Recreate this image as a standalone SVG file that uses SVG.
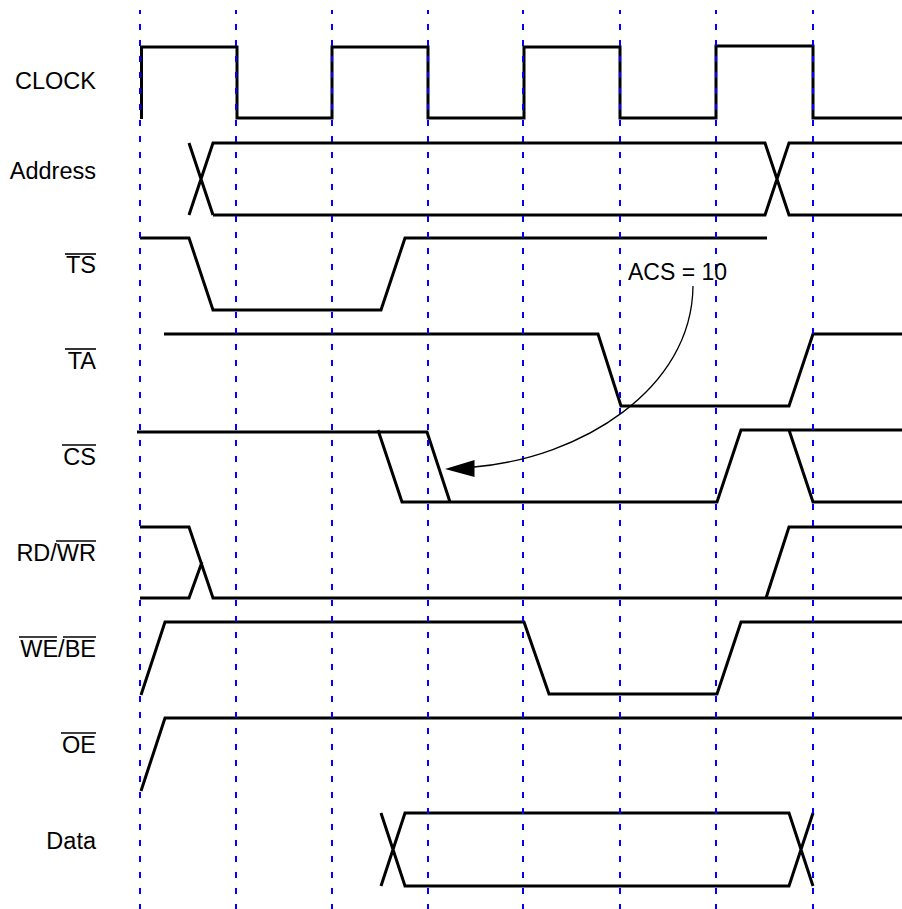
<svg xmlns="http://www.w3.org/2000/svg" width="902" height="909" viewBox="0 0 902 909">
<style>
.lbl{font-family:"Liberation Sans",Arial,Helvetica,sans-serif;font-size:23.5px;fill:#000;text-anchor:end}
.ann{font-family:"Liberation Sans",Arial,Helvetica,sans-serif;font-size:23px;fill:#000}
.wave{fill:none;stroke:#000;stroke-width:3;stroke-linejoin:miter;stroke-linecap:butt}
.ovl{stroke:#000;stroke-width:1.6}
.grid{stroke:#0000ff;stroke-width:2;stroke-dasharray:6 10;stroke-dashoffset:2}
</style>
<rect width="902" height="909" fill="#fff"/>
<g id="CLOCK">
<text class="lbl" x="96" y="89">CLOCK</text>
<path class="wave" d="M141.5,119 V47 H237 V118 H332 V47 H428 V118 H524 V47 H620 V118 H716 V46 H813 V118 H902"/>
</g>
<g id="Address">
<text class="lbl" x="96" y="179">Address</text>
<path class="wave" d="M189,143 L213,215 M189,215 L213,143 H765 L789,215 H902 M213,215 H765 L789,143 H902"/>
</g>
<g id="TS">
<text class="lbl" x="96" y="273">TS</text>
<line class="ovl" x1="65" y1="254" x2="96" y2="254"/>
<path class="wave" d="M140,238 H189 L213,310 H381 L405,238 H767"/>
</g>
<g id="TA">
<text class="lbl" x="96" y="369">TA</text>
<line class="ovl" x1="65" y1="349" x2="96" y2="349"/>
<path class="wave" d="M164,334 H598 L621,406 H789 L813,334 H902"/>
</g>
<g id="CS">
<text class="lbl" x="96" y="465">CS</text>
<line class="ovl" x1="62" y1="445" x2="96" y2="445"/>
<path class="wave" d="M137,432 H427 L450,502 M378,430 L402,502 H717 L741,430 H902 M789,430 L813,502 H902"/>
</g>
<g id="RD_WR">
<text class="lbl" x="96" y="561">RD/WR</text>
<line class="ovl" x1="56" y1="541" x2="96" y2="541"/>
<path class="wave" d="M140,527 H189 L213,598 H902 M140,598 H189 L202,562 M766,598 L789,527 H902"/>
</g>
<g id="WE_BE">
<text class="lbl" x="96" y="657">WE/BE</text>
<line class="ovl" x1="19" y1="637" x2="57" y2="637"/>
<line class="ovl" x1="63" y1="637" x2="96" y2="637"/>
<path class="wave" d="M141,695 L165,622 H524 L549,694 H717 L741,622 H902"/>
</g>
<g id="OE">
<text class="lbl" x="96" y="753">OE</text>
<line class="ovl" x1="61" y1="733" x2="96" y2="733"/>
<path class="wave" d="M141,791 L165,718 H902"/>
</g>
<g id="Data">
<text class="lbl" x="96" y="849">Data</text>
<path class="wave" d="M381,813 L405,886 H789 L813,813 M381,886 L405,813 H789 L813,886"/>
</g>
<g id="gridlines">
<line class="grid" x1="140" y1="10" x2="140" y2="909"/>
<line class="grid" x1="236" y1="10" x2="236" y2="909"/>
<line class="grid" x1="332" y1="10" x2="332" y2="909"/>
<line class="grid" x1="428" y1="10" x2="428" y2="909"/>
<line class="grid" x1="523" y1="10" x2="523" y2="909"/>
<line class="grid" x1="620" y1="10" x2="620" y2="909"/>
<line class="grid" x1="716" y1="10" x2="716" y2="909"/>
<line class="grid" x1="813" y1="10" x2="813" y2="909"/>
</g>
<g id="connectors">
<path d="M693,286 C692,390 580,458 474,467" fill="none" stroke="#000" stroke-width="1.3"/>
<polygon points="445,469 474.5,460 474.5,477" fill="#000"/>
</g>
<g id="ACS_label">
<text class="ann" x="628" y="280">ACS = 10</text>
</g>
</svg>
